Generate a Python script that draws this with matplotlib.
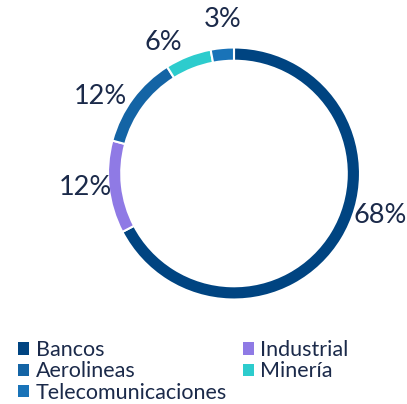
import matplotlib
matplotlib.use("Agg")
from matplotlib import pyplot as plt
from matplotlib.patches import Patch

# data
sectors = ["Bancos", "Industrial", "Aerolineas", "Minería", "Telecomunicaciones"]
shares = [68, 12, 12, 6, 3]
pct_labels = ["68%", "12%", "12%", "6%", "3%"]
colors = ["#004481", "#8f7ae5", "#1464a5", "#2dcccd", "#1973b8"]

# where the % labels sit (axes data coords, radius = 1)
label_pos = [(1.16, -0.33), (-1.18, -0.11), (-1.06, 0.61), (-0.56, 1.04), (-0.09, 1.22)]

text_color = "#1b2a4a"
plt.rcParams["font.family"] = ["Lato", "DejaVu Sans"]

fig = plt.figure(figsize=(4.07, 4.04), dpi=100)
R = 126
cx, cy = 234, 173.5
ax = fig.add_axes([(cx - R) / 407, 1 - (cy + R) / 404, 2 * R / 407, 2 * R / 404])

ax.pie(shares, colors=colors, startangle=90, counterclock=False, radius=1,
       wedgeprops=dict(width=0.105, edgecolor="white", linewidth=1.5))
for (x, y), t in zip(label_pos, pct_labels):
    ax.text(x, y, t, ha="center", va="center", fontsize=19.5,
            fontweight="normal", color=text_color)
ax.set_xlim(-1, 1)
ax.set_ylim(-1, 1)
ax.set_aspect("equal")
ax.axis("off")

# legend: column-major fill, so reorder to get row-wise look
order = [0, 2, 4, 1, 3]
handles = [Patch(facecolor=colors[i], edgecolor="none") for i in order]
labels = [sectors[i] for i in order]
leg = fig.legend(handles, labels, loc="upper left", bbox_to_anchor=(0.045, 0.158),
                 ncol=2, frameon=False, fontsize=15.5, handlelength=0.5,
                 handleheight=0.5, handletextpad=0.3, labelspacing=0.06,
                 columnspacing=0.75, borderpad=0, borderaxespad=0)
for t in leg.get_texts():
    t.set_color(text_color)

fig.savefig("out.png", dpi=100)
